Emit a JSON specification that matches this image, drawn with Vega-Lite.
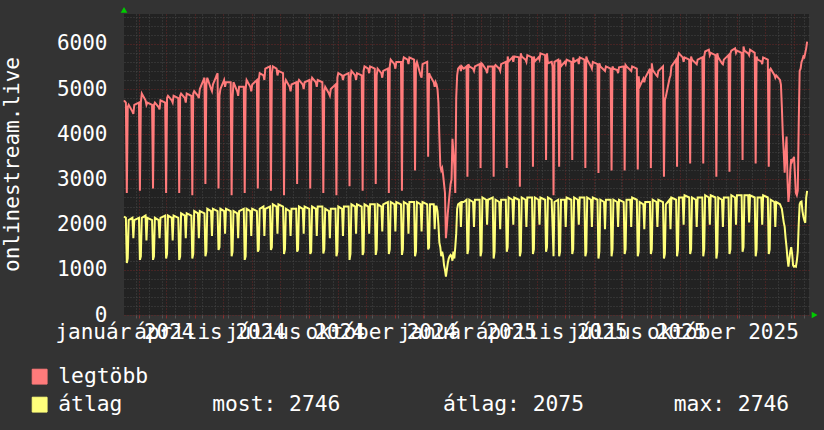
{
  "$schema": "https://vega.github.io/schema/vega-lite/v6.json",
  "width": 685,
  "height": 301,
  "autosize": {"type": "none"},
  "padding": {"left": 124, "top": 14, "right": 15, "bottom": 115},
  "background": "#333333",
  "config": {
    "font": "DejaVu Sans Mono",
    "view": {"fill": "#222222", "stroke": null},
    "axis": {"labelOverlap": false}
  },
  "data": {"values": [
{"t":"2024-01-16","a":4750,"b":2180},{"t":"2024-01-18","a":4700,"b":2150},
{"t":"2024-01-19","a":2700,"b":1150},{"t":"2024-01-20","a":4600,"b":1250},{"t":"2024-01-21","a":4650,"b":2100},{"t":"2024-01-25","a":4500,"b":2150},{"t":"2024-01-26","a":4450,"b":1700},{"t":"2024-01-27","a":4650,"b":2100},{"t":"2024-02-01","a":4700,"b":2150},
{"t":"2024-02-02","a":2750,"b":1220},{"t":"2024-02-03","a":4700,"b":1300},{"t":"2024-02-04","a":4900,"b":2150},{"t":"2024-02-08","a":4750,"b":2200},{"t":"2024-02-09","a":4650,"b":1650},{"t":"2024-02-10","a":4700,"b":2150},{"t":"2024-02-15","a":4650,"b":2100},
{"t":"2024-02-16","a":2800,"b":1220},{"t":"2024-02-17","a":4650,"b":1300},{"t":"2024-02-18","a":4700,"b":2150},{"t":"2024-02-22","a":4600,"b":2100},{"t":"2024-02-23","a":4550,"b":1700},{"t":"2024-02-24","a":4750,"b":2150},{"t":"2024-02-29","a":4700,"b":2200},
{"t":"2024-03-01","a":2700,"b":1250},{"t":"2024-03-02","a":4800,"b":1350},{"t":"2024-03-03","a":4850,"b":2200},{"t":"2024-03-07","a":4750,"b":2150},{"t":"2024-03-08","a":4700,"b":1650},{"t":"2024-03-09","a":4850,"b":2200},{"t":"2024-03-14","a":4800,"b":2150},
{"t":"2024-03-15","a":2700,"b":1220},{"t":"2024-03-16","a":4850,"b":1300},{"t":"2024-03-17","a":4900,"b":2250},{"t":"2024-03-21","a":4800,"b":2200},{"t":"2024-03-22","a":4700,"b":1700},{"t":"2024-03-23","a":4900,"b":2250},{"t":"2024-03-28","a":4850,"b":2200},
{"t":"2024-03-29","a":2650,"b":1250},{"t":"2024-03-30","a":4900,"b":1350},{"t":"2024-03-31","a":4950,"b":2300},{"t":"2024-04-04","a":4850,"b":2250},{"t":"2024-04-05","a":4800,"b":1700},{"t":"2024-04-06","a":5000,"b":2300},{"t":"2024-04-11","a":5250,"b":2250},
{"t":"2024-04-12","a":2900,"b":1300},{"t":"2024-04-13","a":5100,"b":1400},{"t":"2024-04-14","a":5250,"b":2350},{"t":"2024-04-18","a":5000,"b":2300},{"t":"2024-04-19","a":4950,"b":1750},{"t":"2024-04-20","a":5100,"b":2350},{"t":"2024-04-25","a":5350,"b":2300},
{"t":"2024-04-26","a":2800,"b":1440},{"t":"2024-04-27","a":4850,"b":1500},{"t":"2024-04-28","a":5000,"b":2350},{"t":"2024-05-02","a":5200,"b":2300},{"t":"2024-05-03","a":5050,"b":1800},{"t":"2024-05-04","a":5150,"b":2350},{"t":"2024-05-09","a":5150,"b":2300},
{"t":"2024-05-10","a":2650,"b":1300},{"t":"2024-05-11","a":4800,"b":1400},{"t":"2024-05-12","a":5150,"b":2300},{"t":"2024-05-16","a":4950,"b":2250},{"t":"2024-05-17","a":4850,"b":1700},{"t":"2024-05-18","a":5050,"b":2300},{"t":"2024-05-23","a":5050,"b":2350},
{"t":"2024-05-24","a":2700,"b":1220},{"t":"2024-05-25","a":5000,"b":1300},{"t":"2024-05-26","a":5200,"b":2350},{"t":"2024-05-30","a":5050,"b":2300},{"t":"2024-05-31","a":4950,"b":1750},{"t":"2024-06-01","a":5100,"b":2350},{"t":"2024-06-06","a":5200,"b":2300},
{"t":"2024-06-07","a":2800,"b":1400},{"t":"2024-06-08","a":5200,"b":1450},{"t":"2024-06-09","a":5350,"b":2350},{"t":"2024-06-13","a":5300,"b":2400},{"t":"2024-06-14","a":5200,"b":1750},{"t":"2024-06-15","a":5450,"b":2350},{"t":"2024-06-20","a":5500,"b":2400},
{"t":"2024-06-21","a":2750,"b":1440},{"t":"2024-06-22","a":5350,"b":1500},{"t":"2024-06-23","a":5500,"b":2450},{"t":"2024-06-27","a":5450,"b":2400},{"t":"2024-06-28","a":5300,"b":1800},{"t":"2024-06-29","a":5400,"b":2450},{"t":"2024-07-04","a":5350,"b":2400},
{"t":"2024-07-05","a":2650,"b":1350},{"t":"2024-07-06","a":5100,"b":1450},{"t":"2024-07-07","a":5200,"b":2350},{"t":"2024-07-11","a":5050,"b":2300},{"t":"2024-07-12","a":4950,"b":1750},{"t":"2024-07-13","a":5100,"b":2350},{"t":"2024-07-18","a":5150,"b":2350},
{"t":"2024-07-19","a":2900,"b":1400},{"t":"2024-07-20","a":5150,"b":1450},{"t":"2024-07-21","a":5200,"b":2400},{"t":"2024-07-25","a":5100,"b":2350},{"t":"2024-07-26","a":5000,"b":1800},{"t":"2024-07-27","a":5150,"b":2400},{"t":"2024-08-01","a":5200,"b":2350},
{"t":"2024-08-02","a":2800,"b":1350},{"t":"2024-08-03","a":5150,"b":1400},{"t":"2024-08-04","a":5250,"b":2400},{"t":"2024-08-08","a":5150,"b":2350},{"t":"2024-08-09","a":5050,"b":1750},{"t":"2024-08-10","a":5200,"b":2400},{"t":"2024-08-15","a":5150,"b":2400},
{"t":"2024-08-16","a":2700,"b":1360},{"t":"2024-08-17","a":4950,"b":1450},{"t":"2024-08-18","a":5050,"b":2350},{"t":"2024-08-22","a":4900,"b":2300},{"t":"2024-08-23","a":4850,"b":1700},{"t":"2024-08-24","a":5000,"b":2350},{"t":"2024-08-29","a":5100,"b":2350},
{"t":"2024-08-30","a":2650,"b":1300},{"t":"2024-08-31","a":5250,"b":1400},{"t":"2024-09-01","a":5350,"b":2400},{"t":"2024-09-05","a":5300,"b":2350},{"t":"2024-09-06","a":5200,"b":1750},{"t":"2024-09-07","a":5300,"b":2400},{"t":"2024-09-12","a":5350,"b":2400},
{"t":"2024-09-13","a":2850,"b":1220},{"t":"2024-09-14","a":5250,"b":1350},{"t":"2024-09-15","a":5400,"b":2450},{"t":"2024-09-19","a":5300,"b":2400},{"t":"2024-09-20","a":5200,"b":1800},{"t":"2024-09-21","a":5350,"b":2450},{"t":"2024-09-26","a":5300,"b":2400},
{"t":"2024-09-27","a":2750,"b":1330},{"t":"2024-09-28","a":5400,"b":1400},{"t":"2024-09-29","a":5500,"b":2450},{"t":"2024-10-03","a":5450,"b":2400},{"t":"2024-10-04","a":5350,"b":1800},{"t":"2024-10-05","a":5500,"b":2450},{"t":"2024-10-10","a":5450,"b":2450},
{"t":"2024-10-11","a":2900,"b":1330},{"t":"2024-10-12","a":5300,"b":1450},{"t":"2024-10-13","a":5450,"b":2450},{"t":"2024-10-17","a":5350,"b":2400},{"t":"2024-10-18","a":5250,"b":1850},{"t":"2024-10-19","a":5400,"b":2450},{"t":"2024-10-24","a":5450,"b":2500},
{"t":"2024-10-25","a":2700,"b":1350},{"t":"2024-10-26","a":5500,"b":1450},{"t":"2024-10-27","a":5650,"b":2500},{"t":"2024-10-31","a":5550,"b":2450},{"t":"2024-11-01","a":5450,"b":1850},{"t":"2024-11-02","a":5600,"b":2500},{"t":"2024-11-07","a":5600,"b":2450},
{"t":"2024-11-08","a":2750,"b":1330},{"t":"2024-11-09","a":5600,"b":1450},{"t":"2024-11-10","a":5700,"b":2500},{"t":"2024-11-14","a":5650,"b":2450},{"t":"2024-11-15","a":5550,"b":1800},{"t":"2024-11-16","a":5700,"b":2500},{"t":"2024-11-21","a":5650,"b":2500},
{"t":"2024-11-22","a":3200,"b":1300},{"t":"2024-11-23","a":5550,"b":1400},{"t":"2024-11-24","a":5600,"b":2500},{"t":"2024-11-28","a":5300,"b":2450},{"t":"2024-11-29","a":5250,"b":1850},{"t":"2024-11-30","a":5550,"b":2500},{"t":"2024-12-05","a":5600,"b":2450},
{"t":"2024-12-06","a":3500,"b":1450},{"t":"2024-12-07","a":5350,"b":1500},{"t":"2024-12-08","a":5300,"b":2450},{"t":"2024-12-12","a":5150,"b":2450},{"t":"2024-12-13","a":5050,"b":1900},{"t":"2024-12-14","a":5150,"b":2400},
{"t":"2024-12-15","a":5100,"b":2400},{"t":"2024-12-16","a":5000,"b":2300},{"t":"2024-12-17","a":4700,"b":2000},{"t":"2024-12-18","a":3950,"b":1600},{"t":"2024-12-19","a":3300,"b":1500},{"t":"2024-12-20","a":3200,"b":1300},{"t":"2024-12-21","a":3250,"b":1400},{"t":"2024-12-22","a":3100,"b":1300},{"t":"2024-12-23","a":2900,"b":1100},{"t":"2024-12-24","a":2700,"b":1000},{"t":"2024-12-25","a":1700,"b":850},{"t":"2024-12-26","a":1950,"b":1000},{"t":"2024-12-27","a":2250,"b":1150},{"t":"2024-12-28","a":2480,"b":1250},{"t":"2024-12-29","a":2700,"b":1300},{"t":"2024-12-30","a":2900,"b":1330},{"t":"2024-12-31","a":3000,"b":1300},
{"t":"2025-01-01","a":3900,"b":1200},{"t":"2025-01-02","a":3600,"b":1400},{"t":"2025-01-03","a":3300,"b":1250},{"t":"2025-01-04","a":2700,"b":1500},{"t":"2025-01-05","a":4800,"b":1800},{"t":"2025-01-06","a":5300,"b":2350},{"t":"2025-01-07","a":5450,"b":2450},{"t":"2025-01-09","a":5500,"b":2480},{"t":"2025-01-10","a":5400,"b":1950},{"t":"2025-01-11","a":5500,"b":2500},{"t":"2025-01-13","a":5450,"b":2500},{"t":"2025-01-16","a":5500,"b":2550},
{"t":"2025-01-17","a":3060,"b":1350},{"t":"2025-01-18","a":5550,"b":1450},{"t":"2025-01-19","a":5500,"b":2550},{"t":"2025-01-23","a":5450,"b":2500},{"t":"2025-01-24","a":5400,"b":1950},{"t":"2025-01-25","a":5500,"b":2550},{"t":"2025-01-30","a":5550,"b":2550},
{"t":"2025-01-31","a":3250,"b":1300},{"t":"2025-02-01","a":5570,"b":1400},{"t":"2025-02-02","a":5550,"b":2600},{"t":"2025-02-06","a":5420,"b":2550},{"t":"2025-02-07","a":5350,"b":2000},{"t":"2025-02-08","a":5500,"b":2550},{"t":"2025-02-13","a":5500,"b":2600},
{"t":"2025-02-14","a":3060,"b":1250},{"t":"2025-02-15","a":5500,"b":1400},{"t":"2025-02-16","a":5530,"b":2550},{"t":"2025-02-20","a":5450,"b":2500},{"t":"2025-02-21","a":5400,"b":1900},{"t":"2025-02-22","a":5550,"b":2550},{"t":"2025-02-27","a":5600,"b":2550},
{"t":"2025-02-28","a":3250,"b":1400},{"t":"2025-03-01","a":5720,"b":1500},{"t":"2025-03-02","a":5610,"b":2600},{"t":"2025-03-06","a":5700,"b":2550},{"t":"2025-03-07","a":5600,"b":2000},{"t":"2025-03-08","a":5720,"b":2600},{"t":"2025-03-13","a":5700,"b":2550},
{"t":"2025-03-14","a":2840,"b":1300},{"t":"2025-03-15","a":5790,"b":1400},{"t":"2025-03-16","a":5720,"b":2600},{"t":"2025-03-20","a":5650,"b":2550},{"t":"2025-03-21","a":5600,"b":1950},{"t":"2025-03-22","a":5750,"b":2600},{"t":"2025-03-27","a":5700,"b":2600},
{"t":"2025-03-28","a":3280,"b":1350},{"t":"2025-03-29","a":5720,"b":1450},{"t":"2025-03-30","a":5610,"b":2600},{"t":"2025-04-03","a":5700,"b":2550},{"t":"2025-04-04","a":5650,"b":2000},{"t":"2025-04-05","a":5790,"b":2600},{"t":"2025-04-10","a":5750,"b":2550},
{"t":"2025-04-11","a":3430,"b":1400},{"t":"2025-04-12","a":5790,"b":1500},{"t":"2025-04-13","a":5570,"b":2600},{"t":"2025-04-17","a":5600,"b":2550},{"t":"2025-04-18","a":5500,"b":1950},{"t":"2025-04-19","a":2650,"b":1300},{"t":"2025-04-20","a":5600,"b":2500},{"t":"2025-04-24","a":5650,"b":2550},
{"t":"2025-04-25","a":3280,"b":1300},{"t":"2025-04-26","a":5650,"b":1400},{"t":"2025-04-27","a":5500,"b":2550},{"t":"2025-05-01","a":5600,"b":2550},{"t":"2025-05-02","a":5550,"b":1950},{"t":"2025-05-03","a":5650,"b":2600},{"t":"2025-05-08","a":5600,"b":2550},
{"t":"2025-05-09","a":3430,"b":1350},{"t":"2025-05-10","a":5700,"b":1450},{"t":"2025-05-11","a":5600,"b":2600},{"t":"2025-05-15","a":5650,"b":2550},{"t":"2025-05-16","a":5550,"b":2000},{"t":"2025-05-17","a":5700,"b":2600},{"t":"2025-05-22","a":5650,"b":2600},
{"t":"2025-05-23","a":3250,"b":1300},{"t":"2025-05-24","a":5720,"b":1400},{"t":"2025-05-25","a":5650,"b":2600},{"t":"2025-05-29","a":5500,"b":2550},{"t":"2025-05-30","a":5450,"b":1950},{"t":"2025-05-31","a":5600,"b":2600},{"t":"2025-06-05","a":5550,"b":2550},
{"t":"2025-06-06","a":3140,"b":1250},{"t":"2025-06-07","a":5570,"b":1400},{"t":"2025-06-08","a":5500,"b":2550},{"t":"2025-06-12","a":5420,"b":2500},{"t":"2025-06-13","a":5400,"b":1900},{"t":"2025-06-14","a":5500,"b":2550},{"t":"2025-06-19","a":5450,"b":2550},
{"t":"2025-06-20","a":3200,"b":1300},{"t":"2025-06-21","a":5500,"b":1450},{"t":"2025-06-22","a":5450,"b":2550},{"t":"2025-06-26","a":5420,"b":2500},{"t":"2025-06-27","a":5350,"b":1950},{"t":"2025-06-28","a":5480,"b":2550},{"t":"2025-07-03","a":5500,"b":2500},
{"t":"2025-07-04","a":3200,"b":1350},{"t":"2025-07-05","a":5530,"b":1450},{"t":"2025-07-06","a":5500,"b":2550},{"t":"2025-07-10","a":5420,"b":2550},{"t":"2025-07-11","a":5400,"b":1950},{"t":"2025-07-12","a":5500,"b":2600},{"t":"2025-07-17","a":5450,"b":2550},
{"t":"2025-07-18","a":3220,"b":1300},{"t":"2025-07-19","a":5280,"b":1400},{"t":"2025-07-20","a":5050,"b":2500},{"t":"2025-07-24","a":5230,"b":2450},{"t":"2025-07-25","a":5150,"b":1900},{"t":"2025-07-26","a":5250,"b":2500},{"t":"2025-07-31","a":5450,"b":2500},
{"t":"2025-08-01","a":3250,"b":1350},{"t":"2025-08-02","a":5570,"b":1450},{"t":"2025-08-03","a":5420,"b":2550},{"t":"2025-08-07","a":5300,"b":2500},{"t":"2025-08-08","a":5280,"b":1950},{"t":"2025-08-09","a":5400,"b":2550},{"t":"2025-08-14","a":5500,"b":2500},
{"t":"2025-08-15","a":3060,"b":1250},{"t":"2025-08-16","a":4760,"b":1350},{"t":"2025-08-17","a":4830,"b":2450},{"t":"2025-08-21","a":5240,"b":2550},{"t":"2025-08-22","a":5300,"b":1900},{"t":"2025-08-23","a":5500,"b":2600},{"t":"2025-08-28","a":5650,"b":2550},
{"t":"2025-08-29","a":3280,"b":1300},{"t":"2025-08-30","a":5720,"b":1450},{"t":"2025-08-31","a":5790,"b":2600},{"t":"2025-09-04","a":5700,"b":2600},{"t":"2025-09-05","a":5600,"b":2000},{"t":"2025-09-06","a":5700,"b":2650},{"t":"2025-09-11","a":5650,"b":2600},
{"t":"2025-09-12","a":3350,"b":1350},{"t":"2025-09-13","a":5720,"b":1450},{"t":"2025-09-14","a":5650,"b":2600},{"t":"2025-09-18","a":5570,"b":2550},{"t":"2025-09-19","a":5550,"b":1950},{"t":"2025-09-20","a":5650,"b":2600},{"t":"2025-09-25","a":5700,"b":2600},
{"t":"2025-09-26","a":3350,"b":1300},{"t":"2025-09-27","a":5720,"b":1450},{"t":"2025-09-28","a":5830,"b":2650},{"t":"2025-10-02","a":5870,"b":2600},{"t":"2025-10-03","a":5750,"b":2000},{"t":"2025-10-04","a":5800,"b":2650},{"t":"2025-10-09","a":5750,"b":2600},
{"t":"2025-10-10","a":3060,"b":1250},{"t":"2025-10-11","a":5790,"b":1400},{"t":"2025-10-12","a":5700,"b":2600},{"t":"2025-10-16","a":5570,"b":2550},{"t":"2025-10-17","a":5550,"b":1950},{"t":"2025-10-18","a":5650,"b":2600},{"t":"2025-10-23","a":5750,"b":2600},
{"t":"2025-10-24","a":3170,"b":1350},{"t":"2025-10-25","a":5790,"b":1450},{"t":"2025-10-26","a":5850,"b":2650},{"t":"2025-10-30","a":5900,"b":2600},{"t":"2025-10-31","a":5800,"b":2000},{"t":"2025-11-01","a":5850,"b":2650},{"t":"2025-11-06","a":5800,"b":2650},
{"t":"2025-11-07","a":3430,"b":1400},{"t":"2025-11-08","a":5940,"b":1500},{"t":"2025-11-09","a":5850,"b":2650},{"t":"2025-11-13","a":5790,"b":2650},{"t":"2025-11-14","a":5750,"b":2050},{"t":"2025-11-15","a":5870,"b":2650},{"t":"2025-11-20","a":5800,"b":2600},
{"t":"2025-11-21","a":3350,"b":1300},{"t":"2025-11-22","a":5720,"b":1450},{"t":"2025-11-23","a":5650,"b":2600},{"t":"2025-11-27","a":5610,"b":2600},{"t":"2025-11-28","a":5550,"b":2000},{"t":"2025-11-29","a":5700,"b":2650},{"t":"2025-12-04","a":5650,"b":2600},
{"t":"2025-12-05","a":3280,"b":1350},{"t":"2025-12-06","a":5420,"b":1450},{"t":"2025-12-07","a":5450,"b":2550},{"t":"2025-12-11","a":5310,"b":2500},{"t":"2025-12-12","a":5250,"b":1950},{"t":"2025-12-13","a":5300,"b":2500},
{"t":"2025-12-17","a":5200,"b":2450},{"t":"2025-12-18","a":5100,"b":2400},{"t":"2025-12-19","a":4600,"b":2350},{"t":"2025-12-20","a":4000,"b":2200},{"t":"2025-12-21","a":3600,"b":2050},{"t":"2025-12-22","a":3150,"b":1950},{"t":"2025-12-23","a":3600,"b":1700},{"t":"2025-12-24","a":3950,"b":1500},{"t":"2025-12-25","a":3000,"b":1250},{"t":"2025-12-26","a":2500,"b":1070},{"t":"2025-12-27","a":2700,"b":1250},{"t":"2025-12-28","a":3200,"b":1400},{"t":"2025-12-29","a":3450,"b":1500},{"t":"2025-12-30","a":3400,"b":1350},{"t":"2025-12-31","a":3450,"b":1100},
{"t":"2026-01-01","a":3500,"b":1070},{"t":"2026-01-02","a":3100,"b":1080},{"t":"2026-01-03","a":2700,"b":1070},{"t":"2026-01-04","a":2650,"b":1200},{"t":"2026-01-05","a":2750,"b":1400},{"t":"2026-01-06","a":4200,"b":2000},{"t":"2026-01-07","a":5400,"b":2450},{"t":"2026-01-08","a":5450,"b":2500},{"t":"2026-01-09","a":5600,"b":2510},{"t":"2026-01-10","a":5650,"b":2300},{"t":"2026-01-11","a":5720,"b":2180},{"t":"2026-01-12","a":5700,"b":2100},{"t":"2026-01-13","a":5800,"b":2040},{"t":"2026-01-14","a":5900,"b":2600},{"t":"2026-01-15","a":6050,"b":2746}
  ]},
  "layer": [
    {
      "transform": [{"fold": ["a", "b"], "as": ["k", "v"]}],
      "mark": {"type": "line", "strokeWidth": 2, "interpolate": "linear"},
      "encoding": {
        "x": {
          "field": "t", "type": "temporal",
          "scale": {"type": "utc", "domain": [{"year": 2024, "month": 1, "date": 16, "utc": true}, {"year": 2026, "month": 1, "date": 17, "utc": true}]},
          "axis": {
            "title": null,
            "tickCount": 1000,
            "values": [
              {"year":2024,"month":1,"date":29,"utc":true},{"year":2024,"month":2,"date":12,"utc":true},{"year":2024,"month":2,"date":26,"utc":true},{"year":2024,"month":3,"date":11,"utc":true},{"year":2024,"month":3,"date":25,"utc":true},{"year":2024,"month":4,"date":8,"utc":true},{"year":2024,"month":4,"date":22,"utc":true},{"year":2024,"month":5,"date":6,"utc":true},{"year":2024,"month":5,"date":20,"utc":true},{"year":2024,"month":6,"date":3,"utc":true},{"year":2024,"month":6,"date":17,"utc":true},{"year":2024,"month":7,"date":15,"utc":true},{"year":2024,"month":7,"date":29,"utc":true},{"year":2024,"month":8,"date":12,"utc":true},{"year":2024,"month":8,"date":26,"utc":true},{"year":2024,"month":9,"date":9,"utc":true},{"year":2024,"month":9,"date":23,"utc":true},{"year":2024,"month":10,"date":7,"utc":true},{"year":2024,"month":10,"date":21,"utc":true},{"year":2024,"month":11,"date":4,"utc":true},{"year":2024,"month":11,"date":18,"utc":true},{"year":2024,"month":12,"date":2,"utc":true},{"year":2024,"month":12,"date":16,"utc":true},{"year":2024,"month":12,"date":30,"utc":true},
              {"year":2025,"month":1,"date":13,"utc":true},{"year":2025,"month":1,"date":27,"utc":true},{"year":2025,"month":2,"date":10,"utc":true},{"year":2025,"month":2,"date":24,"utc":true},{"year":2025,"month":3,"date":10,"utc":true},{"year":2025,"month":3,"date":24,"utc":true},{"year":2025,"month":4,"date":7,"utc":true},{"year":2025,"month":4,"date":21,"utc":true},{"year":2025,"month":5,"date":5,"utc":true},{"year":2025,"month":5,"date":19,"utc":true},{"year":2025,"month":6,"date":2,"utc":true},{"year":2025,"month":6,"date":16,"utc":true},{"year":2025,"month":6,"date":30,"utc":true},{"year":2025,"month":7,"date":14,"utc":true},{"year":2025,"month":7,"date":28,"utc":true},{"year":2025,"month":8,"date":11,"utc":true},{"year":2025,"month":8,"date":25,"utc":true},{"year":2025,"month":9,"date":8,"utc":true},{"year":2025,"month":9,"date":22,"utc":true},{"year":2025,"month":10,"date":6,"utc":true},{"year":2025,"month":10,"date":20,"utc":true},{"year":2025,"month":11,"date":3,"utc":true},{"year":2025,"month":11,"date":17,"utc":true},{"year":2025,"month":12,"date":15,"utc":true},{"year":2025,"month":12,"date":29,"utc":true},{"year":2026,"month":1,"date":12,"utc":true},
              {"year":2024,"month":2,"date":1,"utc":true},{"year":2024,"month":3,"date":1,"utc":true},{"year":2024,"month":4,"date":1,"utc":true},{"year":2024,"month":5,"date":1,"utc":true},{"year":2024,"month":6,"date":1,"utc":true},{"year":2024,"month":7,"date":1,"utc":true},{"year":2024,"month":8,"date":1,"utc":true},{"year":2024,"month":9,"date":1,"utc":true},{"year":2024,"month":10,"date":1,"utc":true},{"year":2024,"month":11,"date":1,"utc":true},{"year":2024,"month":12,"date":1,"utc":true},
              {"year":2025,"month":1,"date":1,"utc":true},{"year":2025,"month":2,"date":1,"utc":true},{"year":2025,"month":3,"date":1,"utc":true},{"year":2025,"month":4,"date":1,"utc":true},{"year":2025,"month":5,"date":1,"utc":true},{"year":2025,"month":6,"date":1,"utc":true},{"year":2025,"month":7,"date":1,"utc":true},{"year":2025,"month":8,"date":1,"utc":true},{"year":2025,"month":9,"date":1,"utc":true},{"year":2025,"month":10,"date":1,"utc":true},{"year":2025,"month":11,"date":1,"utc":true},{"year":2025,"month":12,"date":1,"utc":true},{"year":2026,"month":1,"date":1,"utc":true},
              {"year":2024,"month":1,"date":16,"hours":12,"utc":true},{"year":2024,"month":4,"date":16,"hours":12,"utc":true},{"year":2024,"month":7,"date":16,"hours":12,"utc":true},{"year":2024,"month":10,"date":16,"hours":12,"utc":true},{"year":2025,"month":1,"date":16,"hours":12,"utc":true},{"year":2025,"month":4,"date":16,"hours":12,"utc":true},{"year":2025,"month":7,"date":16,"hours":12,"utc":true},{"year":2025,"month":10,"date":16,"hours":12,"utc":true}
            ],
            "labelExpr": "utchours(datum.value) == 12 ? (['január','február','március','április','május','június','július','augusztus','szeptember','október','november','december'][utcmonth(datum.value)] + ' ' + utcyear(datum.value)) : ''",
            "labelOverlap": false, "labelFlush": false, "labelBound": false, "labelLimit": 400,
            "labelFont": "DejaVu Sans Mono", "labelFontSize": 21, "labelColor": "#FFFFFF", "labelPadding": 3, "labelAngle": 0,
            "ticks": true, "tickSize": 3, "tickWidth": 1,
            "tickColor": {"condition": {"test": "utcdate(datum.value) == 1 && utchours(datum.value) == 0", "value": "#8A3030"}, "value": "#555555"},
            "tickOpacity": {"condition": {"test": "utchours(datum.value) == 12", "value": 0}, "value": 1},
            "grid": true, "gridWidth": 1, "gridDash": [1, 2],
            "gridColor": {"condition": {"test": "utcdate(datum.value) == 1 && utchours(datum.value) == 0", "value": "#6A2626"}, "value": "#474747"},
            "gridOpacity": {"condition": {"test": "utchours(datum.value) == 12", "value": 0}, "value": 1},
            "domain": false
          }
        },
        "y": {
          "field": "v", "type": "quantitative",
          "scale": {"domain": [0, 6660], "nice": false, "zero": true},
          "axis": {
            "title": "onlinestream.live",
            "titleFont": "DejaVu Sans Mono", "titleFontSize": 21, "titleFontWeight": "normal", "titleColor": "#FFFFFF",
            "titleAngle": -90, "titleX": -106, "titleY": 150, "titleAlign": "center", "titleBaseline": "alphabetic",
            "tickCount": 1000,
            "values": [0,200,400,600,800,1000,1200,1400,1600,1800,2000,2200,2400,2600,2800,3000,3200,3400,3600,3800,4000,4200,4400,4600,4800,5000,5200,5400,5600,5800,6000,6200,6400,6600],
            "format": "d",
            "labelExpr": "datum.value % 1000 == 0 ? datum.label : ''",
            "labelFont": "DejaVu Sans Mono", "labelFontSize": 21, "labelColor": "#FFFFFF", "labelPadding": 17,
            "labelOverlap": false, "labelFlush": false,
            "ticks": false, "domain": false,
            "grid": true, "gridWidth": 1, "gridDash": [1, 2],
            "gridColor": {"condition": {"test": "datum.value % 1000 == 0", "value": "#6A2626"}, "value": "#474747"}
          }
        },
        "color": {
          "field": "k", "type": "nominal",
          "scale": {"domain": ["a", "b"], "range": ["#FF7B7B", "#FFFF7B"]},
          "legend": {
            "title": null,
            "orient": "none", "legendX": -95, "legendY": 352,
            "direction": "vertical",
            "padding": 0, "rowPadding": 6,
            "symbolType": "square", "symbolSize": 220, "symbolStrokeWidth": 1,
            "labelFont": "DejaVu Sans Mono", "labelFontSize": 21.3, "labelColor": "#FFFFFF", "labelOffset": 8, "labelLimit": 1000,
            "labelExpr": "datum.value == 'a' ? 'legtöbb' : 'átlag\u00a0\u00a0\u00a0\u00a0\u00a0\u00a0\u00a0most: 2746\u00a0\u00a0\u00a0\u00a0\u00a0\u00a0\u00a0\u00a0átlag: 2075\u00a0\u00a0\u00a0\u00a0\u00a0\u00a0\u00a0max: 2746'",
            "encode": {
              "symbols": {
                "update": {
                  "fill": {"scale": "color", "field": "value"},
                  "stroke": {"value": "#000000"},
                  "strokeWidth": {"value": 1},
                  "shape": {"value": "square"},
                  "opacity": {"value": 1}
                }
              }
            }
          }
        }
      }
    },
    {
      "data": {"values": [{}]},
      "mark": {"type": "point", "shape": "triangle-up", "filled": true, "size": 45, "color": "#00CC00", "opacity": 1},
      "encoding": {
        "x": {"datum": {"year": 2024, "month": 1, "date": 16, "utc": true}, "type": "temporal"},
        "y": {"datum": 6750, "type": "quantitative"}
      }
    },
    {
      "data": {"values": [{}]},
      "mark": {"type": "point", "shape": "triangle-right", "filled": true, "size": 45, "color": "#00CC00", "opacity": 1},
      "encoding": {
        "x": {"datum": {"year": 2026, "month": 1, "date": 23, "utc": true}, "type": "temporal"},
        "y": {"datum": 0, "type": "quantitative"}
      }
    }
  ]
}
